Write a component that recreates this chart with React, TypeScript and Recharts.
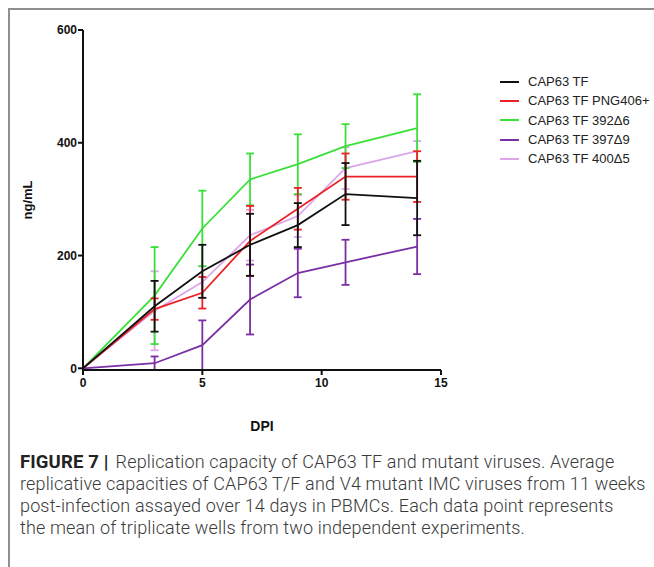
import { LineChart, Line, XAxis, YAxis, ErrorBar } from 'recharts'

const dpi = [0, 3, 5, 7, 9, 11, 14]

const tfMean = [0, 110, 172, 219, 254, 309, 302]
const tfErr = [0, 45, 47, 55, 39, 55, 66]
const pngMean = [0, 105, 134, 226, 283, 340, 340]
const pngErr = [0, 19, 28, 62, 37, 41, 45]
const d392Mean = [0, 129, 248, 335, 362, 394, 426]
const d392Err = [0, 86, 67, 46, 53, 39, 60]
const d397Mean = [0, 9, 41, 122, 169, 188, 216]
const d397Err = [0, 12, 44, 62, 43, 40, 49]
const d400Mean = [0, 102, 153, 236, 270, 355, 385]
const d400Err = [0, 70, 28, 45, 37, 37, 18]

const xTicks = [0, 5, 10, 15]
const yTicks = [0, 200, 400, 600]

const captionLines = [
  'Replication capacity of CAP63 TF and mutant viruses. Average',
  'replicative capacities of CAP63 T/F and V4 mutant IMC viruses from 11 weeks',
  'post-infection assayed over 14 days in PBMCs. Each data point represents',
  'the mean of triplicate wells from two independent experiments.',
]

const series = [
  { key: 'tf', name: 'CAP63 TF', color: '#111111', mean: tfMean, err: tfErr },
  { key: 'png', name: 'CAP63 TF PNG406+', color: '#ec2227', mean: pngMean, err: pngErr },
  { key: 'd392', name: 'CAP63 TF 392Δ6', color: '#38e038', mean: d392Mean, err: d392Err },
  { key: 'd397', name: 'CAP63 TF 397Δ9', color: '#7a2fa5', mean: d397Mean, err: d397Err },
  { key: 'd400', name: 'CAP63 TF 400Δ5', color: '#dca6e8', mean: d400Mean, err: d400Err },
]

const data = dpi.map((d, i) => {
  const row: Record<string, number> = { dpi: d }
  series.forEach((s) => {
    row[s.key] = s.mean[i]
    row[s.key + 'Err'] = s.err[i]
  })
  return row
})

const font = 'Liberation Sans, Arial, sans-serif'
const tickStyle = { fontSize: 12, fontWeight: 700, fill: '#111', fontFamily: font }

function LegendBox() {
  return (
    <div style={{ position: 'absolute', left: 500, top: 72, fontFamily: font, fontSize: 13, color: '#222' }}>
      {series.map((s) => (
        <div key={s.key} style={{ display: 'flex', alignItems: 'center', height: 19.3, whiteSpace: 'nowrap' }}>
          <span style={{ display: 'inline-block', width: 19, height: 2, background: s.color, marginRight: 9 }} />
          <span>{s.name}</span>
        </div>
      ))}
    </div>
  )
}

export default function App() {
  const drawOrder = [...series].reverse()
  return (
    <div style={{ position: 'absolute', left: 0, top: 0, width: 654, height: 567, background: '#fff', overflow: 'hidden' }}>
      <div style={{ position: 'absolute', left: 8, top: 8, width: 660, height: 580, borderTop: '2px solid #8f8f8f', borderLeft: '2px solid #8f8f8f' }} />
      <div style={{ position: 'absolute', left: 0, top: 0 }}>
        <LineChart width={654} height={440} data={data} margin={{ top: 30, right: 213, bottom: 0, left: 0 }}>
          <XAxis
            dataKey="dpi"
            type="number"
            domain={[0, 15]}
            ticks={xTicks}
            height={70}
            tick={tickStyle}
            tickSize={5}
            tickMargin={3}
            axisLine={{ stroke: '#111', strokeWidth: 2 }}
            tickLine={{ stroke: '#111', strokeWidth: 2 }}
            label={{ value: 'DPI', position: 'center', dy: 21, style: { fontSize: 14, fontWeight: 700, fill: '#111', fontFamily: font } }}
          />
          <YAxis
            type="number"
            domain={[0, 600]}
            ticks={yTicks}
            width={83}
            tick={tickStyle}
            tickSize={5}
            tickMargin={1}
            axisLine={{ stroke: '#111', strokeWidth: 2 }}
            tickLine={{ stroke: '#111', strokeWidth: 2 }}
            label={{ value: 'ng/mL', angle: -90, position: 'center', dx: -14, style: { fontSize: 13, fontWeight: 700, fill: '#111', fontFamily: font } }}
          />
          {drawOrder.map((s) => (
            <Line
              key={s.key}
              dataKey={s.key}
              name={s.name}
              stroke={s.color}
              strokeWidth={1.8}
              dot={false}
              isAnimationActive={false}
            >
              <ErrorBar dataKey={s.key + 'Err'} direction="y" width={4} stroke={s.color} strokeWidth={1.8} isAnimationActive={false} />
            </Line>
          ))}
        </LineChart>
      </div>
      <LegendBox />
      <div
        style={{
          position: 'absolute',
          left: 20,
          top: 451,
          fontFamily: 'Roboto, Arial, sans-serif',
          fontSize: 18,
          lineHeight: '22px',
          letterSpacing: 0.15,
          color: '#3a3a3a',
          fontWeight: 300,
          whiteSpace: 'nowrap',
        }}
      >
        {captionLines.map((line, i) => (
          <div key={i}>
            {i === 0 && <span style={{ fontWeight: 700, fontSize: 18.5, color: '#222', marginRight: 7 }}>FIGURE 7 |</span>}
            {line}
          </div>
        ))}
      </div>
    </div>
  )
}
